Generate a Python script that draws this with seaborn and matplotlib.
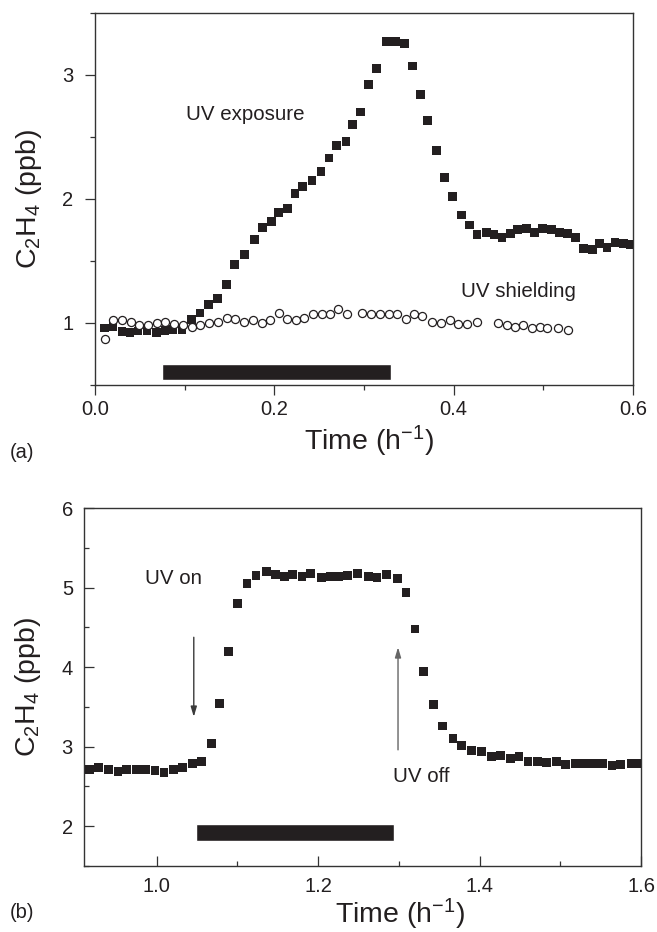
import numpy as np
import pandas as pd
import matplotlib
matplotlib.use('Agg')
import matplotlib.pyplot as plt
import seaborn as sns
from matplotlib.ticker import MultipleLocator, FormatStrFormatter

# ---------------- data: panel (a) ----------------
a_exposure_time = [0.011, 0.020, 0.030, 0.039, 0.048, 0.058, 0.069, 0.078, 0.087, 0.097,
                   0.108, 0.117, 0.127, 0.137, 0.147, 0.156, 0.167, 0.178, 0.187, 0.197,
                   0.205, 0.215, 0.223, 0.231, 0.242, 0.252, 0.261, 0.269, 0.280, 0.287,
                   0.296, 0.305, 0.314, 0.325, 0.335, 0.345, 0.354, 0.363, 0.371, 0.381,
                   0.390, 0.399, 0.409, 0.418, 0.426, 0.437, 0.445, 0.454, 0.463, 0.471,
                   0.481, 0.490, 0.499, 0.509, 0.518, 0.527, 0.536, 0.545, 0.555, 0.563,
                   0.571, 0.580, 0.589, 0.597]
a_exposure_ppb = [0.96, 0.97, 0.93, 0.92, 0.935, 0.935, 0.92, 0.94, 0.95, 0.95,
                  1.03, 1.08, 1.15, 1.20, 1.31, 1.47, 1.55, 1.67, 1.77, 1.82,
                  1.89, 1.92, 2.04, 2.10, 2.15, 2.22, 2.33, 2.43, 2.46, 2.60,
                  2.70, 2.92, 3.05, 3.27, 3.27, 3.25, 3.07, 2.84, 2.63, 2.39,
                  2.17, 2.02, 1.87, 1.79, 1.71, 1.73, 1.71, 1.69, 1.72, 1.75,
                  1.76, 1.73, 1.76, 1.75, 1.73, 1.72, 1.69, 1.60, 1.59, 1.64,
                  1.61, 1.65, 1.64, 1.63]

a_shield_time = [0.011, 0.020, 0.030, 0.040, 0.049, 0.059, 0.069, 0.078, 0.088, 0.098,
                 0.108, 0.117, 0.127, 0.137, 0.147, 0.156, 0.166, 0.176, 0.186, 0.195,
                 0.205, 0.214, 0.224, 0.233, 0.243, 0.253, 0.262, 0.271, 0.281,
                 0.298, 0.308, 0.318, 0.328, 0.337, 0.347, 0.356, 0.365, 0.376, 0.386,
                 0.396, 0.405, 0.415, 0.426,
                 0.449, 0.459, 0.468, 0.477, 0.487, 0.496, 0.504, 0.516, 0.527]
a_shield_ppb = [0.87, 1.02, 1.02, 1.01, 0.98, 0.98, 1.00, 1.01, 0.99, 0.98,
                0.97, 0.98, 1.00, 1.01, 1.04, 1.03, 1.01, 1.02, 1.00, 1.02,
                1.08, 1.03, 1.02, 1.04, 1.07, 1.07, 1.07, 1.11, 1.07,
                1.08, 1.07, 1.07, 1.07, 1.07, 1.03, 1.07, 1.06, 1.01, 1.00,
                1.02, 0.99, 0.99, 1.01,
                1.00, 0.98, 0.97, 0.98, 0.96, 0.97, 0.96, 0.96, 0.94]

a_bar_time = [0.075, 0.330]
a_bar_ppb = [0.54, 0.67]

# ---------------- data: panel (b) ----------------
b_time = [0.917, 0.928, 0.940, 0.952, 0.963, 0.975, 0.986, 0.998, 1.009, 1.021,
          1.032, 1.044, 1.056, 1.068, 1.078, 1.089, 1.100, 1.112, 1.123, 1.136,
          1.147, 1.158, 1.168, 1.180, 1.191, 1.204, 1.215, 1.226, 1.236, 1.249,
          1.262, 1.273, 1.285, 1.298, 1.309, 1.320, 1.331, 1.343, 1.354, 1.367,
          1.378, 1.390, 1.402, 1.415, 1.426, 1.438, 1.449, 1.460, 1.472, 1.483,
          1.495, 1.506, 1.519, 1.530, 1.541, 1.552, 1.564, 1.575, 1.588, 1.598]
b_ppb = [2.71, 2.74, 2.71, 2.69, 2.71, 2.71, 2.71, 2.70, 2.68, 2.71,
         2.74, 2.79, 2.81, 3.04, 3.54, 4.20, 4.80, 5.05, 5.15, 5.20,
         5.16, 5.14, 5.16, 5.14, 5.18, 5.13, 5.14, 5.14, 5.15, 5.18,
         5.14, 5.13, 5.16, 5.11, 4.94, 4.48, 3.94, 3.53, 3.26, 3.10,
         3.01, 2.95, 2.94, 2.88, 2.89, 2.85, 2.88, 2.81, 2.81, 2.80,
         2.81, 2.78, 2.79, 2.79, 2.79, 2.79, 2.76, 2.78, 2.79, 2.79]

b_bar_time = [1.049, 1.294]
b_bar_ppb = [1.81, 2.03]

uv_on_arrow = {'x': 1.046, 'y_from': 4.375, 'y_to': 3.375}
uv_off_arrow = {'x': 1.299, 'y_from': 2.96, 'y_to': 4.25}

# ---------------- style ----------------
sns.set_theme(style='ticks')
plt.rcParams['font.family'] = ['Liberation Sans', 'DejaVu Sans']
plt.rcParams['mathtext.fontset'] = 'custom'
plt.rcParams['mathtext.rm'] = 'Liberation Sans'
plt.rcParams['mathtext.it'] = 'Liberation Sans:italic'
plt.rcParams['mathtext.bf'] = 'Liberation Sans:bold'
plt.rcParams['mathtext.default'] = 'regular'

INK = '#231f20'
SPINE = '#333333'
TICK_FS = 14.5
LABEL_FS = 20.5
NOTE_FS = 14.8

fig = plt.figure(figsize=(6.57, 9.32), dpi=100)
W, H = 657.0, 932.0
axa = fig.add_axes([95 / W, 1 - 385 / H, 538 / W, 372.3 / H])
axb = fig.add_axes([84 / W, 1 - 866 / H, 557 / W, 358 / H])

# ---------------- panel (a) ----------------
df_exp = pd.DataFrame({'time': a_exposure_time, 'ppb': a_exposure_ppb})
df_sh = pd.DataFrame({'time': a_shield_time, 'ppb': a_shield_ppb})

axa.barh(y=(a_bar_ppb[0] + a_bar_ppb[1]) / 2, width=a_bar_time[1] - a_bar_time[0],
         left=a_bar_time[0], height=a_bar_ppb[1] - a_bar_ppb[0], color=INK, zorder=2)
sns.scatterplot(data=df_exp, x='time', y='ppb', ax=axa, marker='s', s=40,
                color=INK, edgecolor='none', linewidth=0, zorder=3, legend=False)
sns.scatterplot(data=df_sh, x='time', y='ppb', ax=axa, marker='o', s=34,
                color='white', edgecolor=INK, linewidth=0.9, zorder=4, legend=False)

axa.text(0.1676, 2.68, 'UV exposure', fontsize=NOTE_FS, ha='center', va='center', color=INK)
axa.text(0.4726, 1.256, 'UV shielding', fontsize=NOTE_FS, ha='center', va='center', color=INK)

axa.set_xlim(0, 0.6)
axa.set_ylim(0.5, 3.5)
axa.xaxis.set_major_locator(MultipleLocator(0.2))
axa.xaxis.set_minor_locator(MultipleLocator(0.1))
axa.xaxis.set_major_formatter(FormatStrFormatter('%.1f'))
axa.yaxis.set_major_locator(MultipleLocator(1))
axa.yaxis.set_minor_locator(MultipleLocator(0.5))
axa.tick_params(which='major', direction='out', length=7.5, width=0.9,
                labelsize=TICK_FS, pad=3, color=SPINE, labelcolor=INK)
axa.tick_params(which='minor', direction='out', length=3.5, width=0.9, color=SPINE)
axa.tick_params(axis='y', which='major', pad=8)
axa.set_xlabel('Time (h$^{-1}$)', fontsize=LABEL_FS, color=INK)
axa.set_ylabel('C$_2$H$_4$ (ppb)', fontsize=LABEL_FS, color=INK)
axa.xaxis.set_label_coords(0.509, -0.105)
axa.yaxis.set_label_coords(-0.095, 0.5)

# ---------------- panel (b) ----------------
df_b = pd.DataFrame({'time': b_time, 'ppb': b_ppb})
axb.barh(y=(b_bar_ppb[0] + b_bar_ppb[1]) / 2, width=b_bar_time[1] - b_bar_time[0],
         left=b_bar_time[0], height=b_bar_ppb[1] - b_bar_ppb[0], color=INK, zorder=2)
sns.scatterplot(data=df_b, x='time', y='ppb', ax=axb, marker='s', s=40,
                color=INK, edgecolor='none', linewidth=0, zorder=3, legend=False)

axb.annotate('', xy=(uv_on_arrow['x'], uv_on_arrow['y_to']),
             xytext=(uv_on_arrow['x'], uv_on_arrow['y_from']),
             arrowprops=dict(arrowstyle='-|>,head_length=0.5,head_width=0.15',
                             color='#3a3a3a', lw=1.0, shrinkA=0, shrinkB=0))
axb.annotate('', xy=(uv_off_arrow['x'], uv_off_arrow['y_to']),
             xytext=(uv_off_arrow['x'], uv_off_arrow['y_from']),
             arrowprops=dict(arrowstyle='-|>,head_length=0.5,head_width=0.15',
                             color='#666666', lw=1.0, shrinkA=0, shrinkB=0))
axb.text(1.0205, 5.12, 'UV on', fontsize=NOTE_FS, ha='center', va='center', color=INK)
axb.text(1.328, 2.625, 'UV off', fontsize=NOTE_FS, ha='center', va='center', color=INK)

axb.set_xlim(0.91, 1.6)
axb.set_ylim(1.5, 6)
axb.xaxis.set_major_locator(MultipleLocator(0.2))
axb.xaxis.set_minor_locator(MultipleLocator(0.1))
axb.xaxis.set_major_formatter(FormatStrFormatter('%.1f'))
axb.yaxis.set_major_locator(MultipleLocator(1))
axb.yaxis.set_minor_locator(MultipleLocator(0.5))
axb.tick_params(which='major', direction='in', length=7.5, width=0.9,
                labelsize=TICK_FS, pad=8, color=SPINE, labelcolor=INK)
axb.tick_params(which='minor', direction='in', length=3.5, width=0.9, color=SPINE)
axb.set_xlabel('Time (h$^{-1}$)', fontsize=LABEL_FS, color=INK)
axb.set_ylabel('C$_2$H$_4$ (ppb)', fontsize=LABEL_FS, color=INK)
axb.xaxis.set_label_coords(0.567, -0.085)
axb.yaxis.set_label_coords(-0.074, 0.5)

for ax in (axa, axb):
    for sp in ax.spines.values():
        sp.set_visible(True)
        sp.set_color(SPINE)
        sp.set_linewidth(1.0)
    ax.tick_params(top=False, right=False)

fig.text(22 / W, 1 - 452 / H, '(a)', fontsize=TICK_FS, ha='center', va='center', color=INK)
fig.text(22 / W, 1 - 912 / H, '(b)', fontsize=TICK_FS, ha='center', va='center', color=INK)

fig.savefig('out.png', dpi=100)
